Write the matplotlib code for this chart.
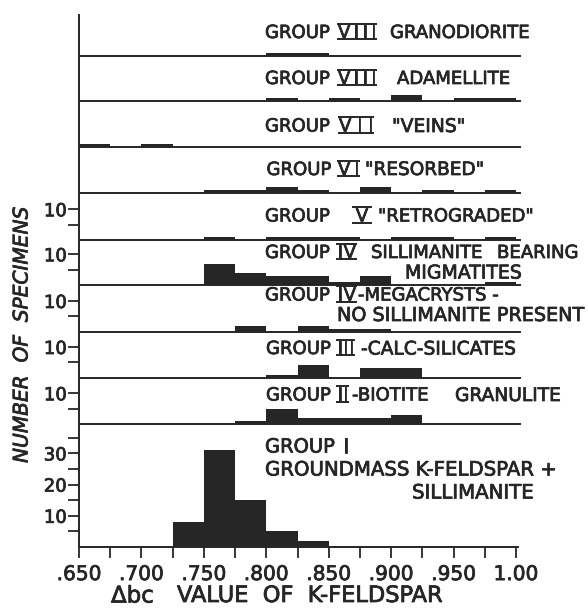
import matplotlib
matplotlib.use("Agg")
import matplotlib.pyplot as plt
import matplotlib.patheffects as pe
from matplotlib.lines import Line2D
from matplotlib.font_manager import FontProperties
from matplotlib.ticker import FixedLocator

# ---------------- data ----------------
bin_left = [0.650, 0.675, 0.700, 0.725, 0.750, 0.775, 0.800,
            0.825, 0.850, 0.875, 0.900, 0.925, 0.950, 0.975]
bin_width = 0.025

g8_granodiorite = [0, 0, 0, 0, 0, 0, 1, 1, 0, 0, 0, 0, 0, 0]
g8_adamellite   = [0, 0, 0, 0, 0, 0, 1, 0, 1, 0, 2, 0, 1, 1]
g7_veins        = [1, 0, 1, 0, 0, 0, 0, 0, 0, 0, 0, 0, 0, 0]
g6_resorbed     = [0, 0, 0, 0, 1, 1, 2, 1, 0, 2, 0, 1, 0, 1]
g5_retrograded  = [0, 0, 0, 0, 1, 0, 1, 1, 1, 0, 1, 1, 0, 1]
g4_sillimanite  = [0, 0, 0, 0, 7, 4, 3, 3, 1, 3, 0, 0, 0, 1]
g4_megacrysts   = [0, 0, 0, 0, 0, 2, 0, 2, 1, 1, 0, 0, 0, 0]
g3_calc         = [0, 0, 0, 0, 0, 0, 1, 4, 0, 3, 3, 0, 0, 0]
g2_biotite      = [0, 0, 0, 0, 0, 1, 5, 2, 2, 2, 3, 0, 0, 0]
g1_groundmass   = [0, 0, 0, 8, 31, 15, 5, 2, 0, 0, 0, 0, 0, 0]

x_tick_values = [0.650, 0.700, 0.750, 0.800, 0.850, 0.900, 0.950, 1.000]
x_tick_labels = [".650", ".700", ".750", ".800", ".850", ".900", ".950", "1.00"]

# group label words: (text, is_roman_numeral)
group_words = [
    [("GROUP", False), ("VIII", True), ("GRANODIORITE", False)],
    [("GROUP", False), ("VIII", True), ("ADAMELLITE", False)],
    [("GROUP", False), ("VII", True), ("\"VEINS\"", False)],
    [("GROUP", False), ("VI", True), ("\"RESORBED\"", False)],
    [("GROUP", False), ("V", True), ("\"RETROGRADED\"", False)],
    [("GROUP", False), ("IV", True), ("SILLIMANITE", False), ("BEARING", False),
     ("MIGMATITES", False)],
    [("GROUP", False), ("IV", True), ("-MEGACRYSTS -", False),
     ("NO SILLIMANITE PRESENT", False)],
    [("GROUP", False), ("III", True), ("-CALC-SILICATES", False)],
    [("GROUP", False), ("II", True), ("-BIOTITE", False), ("GRANULITE", False)],
    [("GROUP", False), ("I", False), ("GROUNDMASS K-FELDSPAR +", False),
     ("SILLIMANITE", False)],
]

series = [g8_granodiorite, g8_adamellite, g7_veins, g6_resorbed,
          g5_retrograded, g4_sillimanite, g4_megacrysts, g3_calc, g2_biotite]

# ---------------- layout (pixels, from top-left) ----------------
W, H = 588, 608
INK = "#262626"
HEAVY = [pe.withStroke(linewidth=0.55, foreground=INK)]
plt.rcParams["font.family"] = ["DejaVu Sans"]

fig = plt.figure(figsize=(W / 100, H / 100), dpi=100)
fig.patch.set_facecolor("white")
renderer = fig.canvas.get_renderer()

X0, X1 = 79, 520
PX_PER_X = 1248.6
PX_PER_Y = 3.07
xlim_up = (0.65, 0.65 + (X1 - X0) / PX_PER_X)

baselines = [55.7, 100.7, 146.7, 193.3, 240, 285, 331.7, 377.7, 424]
tops = [15] + baselines[:-1]
with_ticks = [False, False, False, False, True, True, True, True, True]

# word placement: (x_left, x_right_of_numeral_box or None, y_center, size)
word_boxes = [
    [(265, None, 33, 13), (337, 377, 33, 13), (390, None, 33, 13)],
    [(265, None, 79, 13), (337, 377, 79, 13), (397, None, 79, 13)],
    [(265, None, 126.5, 13), (338, 374, 126.5, 13), (392, None, 126.5, 13.5)],
    [(266.5, None, 170, 13), (337, 360, 170, 13), (365, None, 170, 13.3)],
    [(265, None, 216.5, 13), (352, 372, 216.5, 13), (378, None, 216.5, 13)],
    [(265, None, 253, 13), (336, 357, 253, 13), (371, None, 253, 13),
     (497, None, 253, 13), (405, None, 273, 13.6)],
    [(265, None, 295.5, 13), (336, 357, 295.5, 13), (358, None, 295.5, 13),
     (337, None, 315.5, 13.8)],
    [(266, None, 349, 13), (336, 355, 349, 13), (361, None, 349, 13.4)],
    [(266, None, 395.5, 13), (336, 349, 395.5, 13), (352, None, 395.5, 13),
     (455, None, 395.5, 13.4)],
    [(265, None, 447, 14), (343, None, 447, 14), (265, None, 470, 14.2),
     (412, None, 493, 14.2)],
]


def px_axes(x0, x1, ytop, ybot):
    return fig.add_axes([x0 / W, 1 - ybot / H, (x1 - x0) / W, (ybot - ytop) / H])


def style(ax):
    for s in ("top", "right"):
        ax.spines[s].set_visible(False)
    for s in ("left", "bottom"):
        ax.spines[s].set_linewidth(1.4)
        ax.spines[s].set_color(INK)
    ax.set_facecolor("none")


def heavy_ticklabels(ax):
    for t in ax.get_xticklabels() + ax.get_yticklabels():
        t.set_path_effects(HEAVY)


def measure(s, size):
    prop = FontProperties(family="DejaVu Sans", size=size)
    return renderer.get_text_width_height_descent(s, prop, ismath=False)


def put(s, x, y, size, ha="left", **kw):
    return fig.text(x / W, 1 - y / H, s, ha=ha, va="center", fontsize=size,
                    color=INK, path_effects=HEAVY, **kw)


def roman(s, x0, x1, y, size):
    """Roman numeral spread over a box, with bars above and below."""
    ws = [measure(c, size)[0] for c in s]
    if len(s) == 1:
        put(s, (x0 + x1) / 2, y, size, ha="center")
    else:
        gap = max(0.5, (x1 - x0 - 2 - sum(ws)) / (len(s) - 1))
        x = x0 + 1
        for c, w in zip(s, ws):
            put(c, x, y, size)
            x += w + gap
    _, h, d = measure(s, size)
    _, h_lp, d_lp = measure("lp", size)
    hh, dd = max(h, h_lp), max(d, d_lp)
    base = (H - y) - hh / 2 + dd
    cap = base + 0.729 * size * 100 / 72
    for yy in (base - 1.0, cap + 1.0):
        fig.add_artist(Line2D([x0 / W, x1 / W], [yy / H, yy / H],
                              transform=fig.transFigure, color=INK,
                              linewidth=1.4, solid_capstyle="butt"))


def draw_words(words, boxes):
    for (s, is_rn), (x0, x1, y, size) in zip(words, boxes):
        if is_rn:
            roman(s, x0, x1, y, size)
        else:
            put(s, x0, y, size)


for counts, base, top, tk in zip(series, baselines, tops, with_ticks):
    ax = px_axes(X0, X1, top, base)
    style(ax)
    ax.bar(bin_left, counts, width=bin_width, align="edge",
           color=INK, linewidth=0)
    ax.set_xlim(*xlim_up)
    ax.set_ylim(0, (base - top) / PX_PER_Y)
    ax.set_xticks([])
    if tk:
        ax.yaxis.set_major_locator(FixedLocator([10]))
        ax.yaxis.set_minor_locator(FixedLocator([5]))
        ax.set_yticklabels(["10"])
        ax.tick_params(axis="y", which="both", direction="out", length=8,
                       width=1.3, color=INK, labelsize=13, labelcolor=INK,
                       pad=1)
        heavy_ticklabels(ax)
    else:
        ax.set_yticks([])

# Group I (bottom panel with the real axes)
ax = px_axes(X0, 518, 424, 547)
style(ax)
ax.bar(bin_left, g1_groundmass, width=bin_width, align="edge",
       color=INK, linewidth=0)
ax.set_xlim(0.65, 0.65 + (518 - X0) / PX_PER_X)
ax.set_ylim(0, 123 / 3.12)
ax.set_xticks(x_tick_values)
ax.set_xticklabels(x_tick_labels)
ax.xaxis.set_minor_locator(FixedLocator([v + 0.025 for v in x_tick_values[:-1]]))
ax.yaxis.set_major_locator(FixedLocator([10, 20, 30]))
ax.yaxis.set_minor_locator(FixedLocator([5, 15, 25, 35]))
ax.tick_params(axis="both", which="both", direction="out", length=8,
               width=1.3, color=INK, labelcolor=INK)
ax.tick_params(axis="x", labelsize=14.5, pad=5)
ax.tick_params(axis="y", labelsize=13, pad=1)
heavy_ticklabels(ax)

for words, boxes in zip(group_words, word_boxes):
    draw_words(words, boxes)

put("NUMBER  OF  SPECIMENS", 22, 335, 14.5, ha="center", rotation=90,
    style="italic")
put("\u0394bc", 111, 596, 16.5)
put("VALUE  OF  K-FELDSPAR", 177, 596, 16.2)

fig.savefig("out.png", dpi=100, facecolor="white")
